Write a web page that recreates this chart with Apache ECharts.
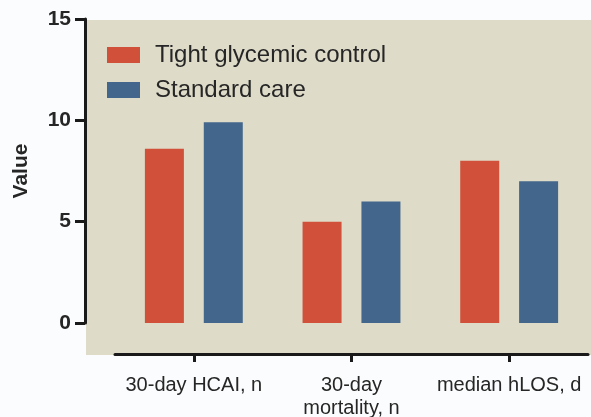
<!DOCTYPE html>
<html>
<head>
    <meta charset="utf-8">
    <title>ECharts</title>
    <script src="https://cdn.jsdelivr.net/npm/echarts@6/dist/echarts.min.js"></script>
    <style>
        * { margin: 0; padding: 0; }
        body { background: #fbfcfd; }
    </style>
</head>
<body>
    <div id="main" style="width: 591px; height: 417px;"></div>
    <script type="text/javascript">
        // data
        var categories = ['30-day HCAI, n', '30-day\nmortality, n', 'median hLOS, d'];
        var tightControl = [8.6, 5, 8];
        var standardCare = [9.9, 6, 7];
        var yTicks = [0, 5, 10, 15];

        var myChart = echarts.init(document.getElementById('main'));
        var font = 'Liberation Sans, Arial, sans-serif';

        var option = {
            backgroundColor: '#fbfcfd',
            textStyle: { fontFamily: font },
            graphic: [{
                type: 'rect',
                z: -10,
                silent: true,
                shape: { x: 86, y: 20, width: 505, height: 335 },
                style: { fill: '#dedbc8' }
            }],
            legend: {
                orient: 'vertical',
                left: 102,
                top: 38,
                itemWidth: 33,
                itemHeight: 16,
                itemGap: 11,
                icon: 'rect',
                textStyle: { fontSize: 24, color: '#262626', padding: [0, 0, 0, 10] },
                data: ['Tight glycemic control', 'Standard care']
            },
            grid: { left: 115, right: 3, top: 19, bottom: 94, outerBoundsMode: 'none' },
            xAxis: {
                type: 'category',
                data: categories,
                offset: 31,
                axisLine: { onZero: false, lineStyle: { color: '#1a1a1a', width: 3 } },
                axisTick: { show: true, interval: 0, alignWithLabel: true, length: 8, lineStyle: { color: '#1a1a1a', width: 3 } },
                axisLabel: { interval: 0, fontSize: 20, color: '#262626', margin: 20, lineHeight: 23 }
            },
            yAxis: {
                type: 'value',
                min: yTicks[0],
                max: yTicks[yTicks.length - 1],
                interval: 5,
                offset: 30,
                name: 'Value',
                nameLocation: 'middle',
                nameGap: 53,
                nameTextStyle: { fontSize: 21, fontWeight: 'bold', color: '#262626' },
                axisLine: { show: true, lineStyle: { color: '#1a1a1a', width: 3 } },
                axisTick: { show: true, length: 10, lineStyle: { color: '#1a1a1a', width: 3 } },
                axisLabel: { fontSize: 21, fontWeight: 'bold', color: '#262626', margin: 14 },
                splitLine: { show: false }
            },
            series: [
                {
                    name: 'Tight glycemic control',
                    type: 'bar',
                    data: tightControl,
                    barWidth: 39,
                    barGap: '51%',
                    itemStyle: { color: '#d0503a' }
                },
                {
                    name: 'Standard care',
                    type: 'bar',
                    data: standardCare,
                    barWidth: 39,
                    itemStyle: { color: '#42668c' }
                }
            ]
        };

        myChart.setOption(option);
    </script>
</body>
</html>
